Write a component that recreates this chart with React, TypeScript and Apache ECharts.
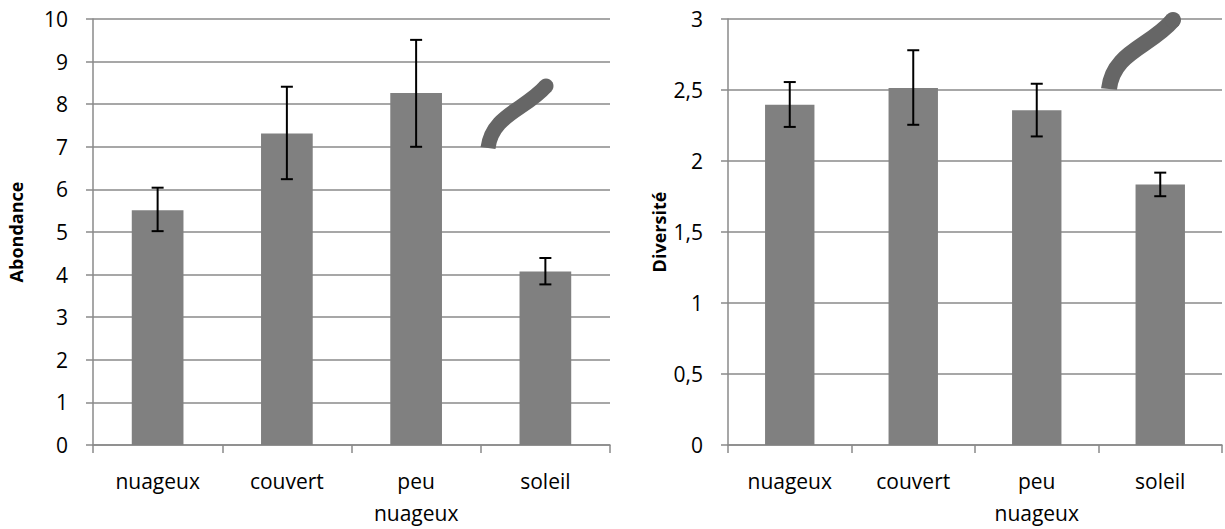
import React, { useEffect, useRef } from "react";
import * as echarts from "echarts";

const categories = ["nuageux", "couvert", "peu\nnuageux", "soleil"];
const abondance = [5.51, 7.31, 8.26, 4.07];
const abondanceLow = [5.02, 6.24, 7.0, 3.77];
const abondanceHigh = [6.04, 8.41, 9.51, 4.39];
const diversite = [2.397, 2.514, 2.357, 1.834];
const diversiteLow = [2.24, 2.255, 2.173, 1.752];
const diversiteHigh = [2.556, 2.78, 2.544, 1.918];

const FONT = "Open Sans";
const GRID_COLOR = "#8a8a8a";

function errorItem(params: any, api: any) {
  const i = api.value(0);
  const top = api.coord([i, api.value(2)]);
  const bot = api.coord([i, api.value(1)]);
  const hw = 6;
  const style = { stroke: "#000", lineWidth: 2 };
  return {
    type: "group",
    children: [
      { type: "line", shape: { x1: top[0], y1: top[1], x2: bot[0], y2: bot[1] }, style },
      { type: "line", shape: { x1: top[0] - hw, y1: top[1], x2: top[0] + hw, y2: top[1] }, style },
      { type: "line", shape: { x1: bot[0] - hw, y1: bot[1], x2: bot[0] + hw, y2: bot[1] }, style },
    ],
  };
}

function xAxis(gridIndex: number) {
  return {
    type: "category",
    gridIndex,
    data: categories,
    axisLine: { lineStyle: { color: GRID_COLOR, width: 1.5 } },
    axisTick: { show: true, length: 8, lineStyle: { color: GRID_COLOR, width: 1.5 } },
    axisLabel: { color: "#000", fontFamily: FONT, fontSize: 21, margin: 20, lineHeight: 32 },
  };
}

function yAxis(gridIndex: number, max: number, interval: number, name: string, nameGap: number, fmt: (v: number) => string) {
  return {
    type: "value",
    gridIndex,
    min: 0,
    max,
    interval,
    name,
    nameLocation: "middle",
    nameRotate: 90,
    nameGap,
    nameTextStyle: { color: "#000", fontFamily: FONT, fontSize: 18, fontWeight: "bold" },
    axisLine: { show: true, lineStyle: { color: GRID_COLOR, width: 1.5 } },
    axisTick: { show: true, length: 7, lineStyle: { color: GRID_COLOR, width: 1.5 } },
    axisLabel: { color: "#000", fontFamily: FONT, fontSize: 21, margin: 25, formatter: fmt },
    splitLine: { show: true, lineStyle: { color: GRID_COLOR, width: 1.5 } },
  };
}

export default function App() {
  const ref = useRef<HTMLDivElement>(null);
  useEffect(() => {
    document.body.style.margin = "0";
    const chart = echarts.init(ref.current!, null, { renderer: "svg" });
    const comma = (v: number) => String(v).replace(".", ",");
    chart.setOption({
      animation: false,
      backgroundColor: "#fff",
      grid: [
        { left: 93, top: 19, width: 517, height: 428 },
        { left: 728, top: 19, width: 494, height: 428 },
      ],
      xAxis: [xAxis(0), xAxis(1)],
      yAxis: [
        yAxis(0, 10, 1, "Abondance", 68, comma),
        yAxis(1, 3, 0.5, "Diversité", 60, comma),
      ],
      series: [
        {
          type: "bar",
          xAxisIndex: 0,
          yAxisIndex: 0,
          data: abondance,
          barWidth: "40%",
          itemStyle: { color: "#808080" },
        },
        {
          type: "custom",
          xAxisIndex: 0,
          yAxisIndex: 0,
          data: abondance.map((_, i) => [i, abondanceLow[i], abondanceHigh[i]]),
          renderItem: errorItem,
          z: 5,
        },
        {
          type: "bar",
          xAxisIndex: 1,
          yAxisIndex: 1,
          data: diversite,
          barWidth: "40%",
          itemStyle: { color: "#808080" },
        },
        {
          type: "custom",
          xAxisIndex: 1,
          yAxisIndex: 1,
          data: diversite.map((_, i) => [i, diversiteLow[i], diversiteHigh[i]]),
          renderItem: errorItem,
          z: 5,
        },
      ],
      graphic: [
        {
          type: "bezierCurve",
          shape: { x1: 488, y1: 148, cpx1: 492, cpy1: 115, cpx2: 525, cpy2: 110, x2: 546, y2: 86 },
          style: { stroke: "#666", lineWidth: 15, fill: null, lineCap: "butt" },
          z: 10,
        },
        { type: "circle", shape: { cx: 546, cy: 86, r: 7.5 }, style: { fill: "#666" }, z: 10 },
        {
          type: "bezierCurve",
          shape: { x1: 1109, y1: 89, cpx1: 1113, cpy1: 52, cpx2: 1150, cpy2: 47, x2: 1173, y2: 20 },
          style: { stroke: "#666", lineWidth: 16, fill: null, lineCap: "butt" },
          z: 10,
        },
        { type: "circle", shape: { cx: 1173, cy: 20, r: 8 }, style: { fill: "#666" }, z: 10 },
      ],
    });
    return () => chart.dispose();
  }, []);
  return <div ref={ref} style={{ width: 1225, height: 529 }} />;
}
